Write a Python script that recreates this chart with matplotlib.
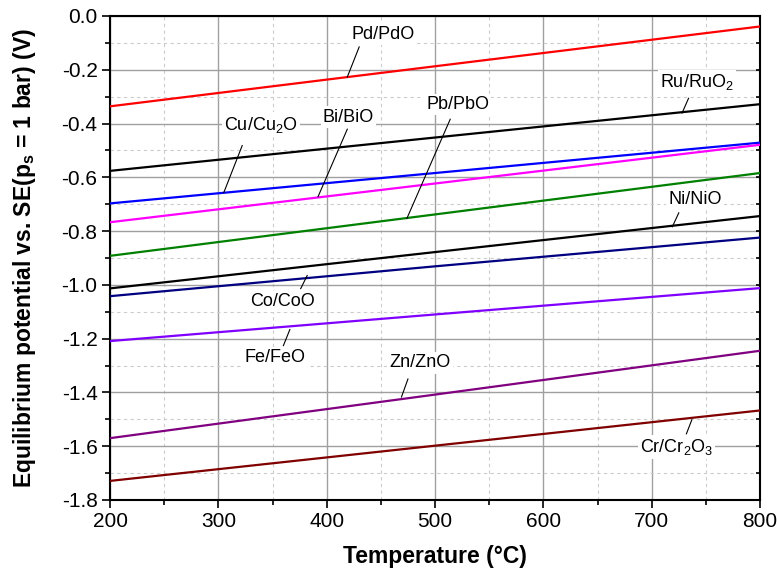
import matplotlib
matplotlib.use("Agg")
import matplotlib.pyplot as plt
from matplotlib.ticker import MultipleLocator, FormatStrFormatter

plt.rcParams['font.family'] = ['Liberation Sans', 'DejaVu Sans']
plt.rcParams['mathtext.fontset'] = 'custom'
plt.rcParams['mathtext.rm'] = 'Liberation Sans'
plt.rcParams['mathtext.it'] = 'Liberation Sans'
plt.rcParams['mathtext.bf'] = 'Liberation Sans:bold'

# temperature (°C)
temp = [200, 500, 800]

# equilibrium potentials (V) read at 200, 500, 800 °C
pd_pdo = [-0.336, -0.187, -0.039]
ru_ruo2 = [-0.576, -0.452, -0.328]
cu_cu2o = [-0.697, -0.584, -0.471]
bi_bio = [-0.767, -0.623, -0.479]
pb_pbo = [-0.892, -0.738, -0.584]
ni_nio = [-1.013, -0.878, -0.744]
co_coo = [-1.042, -0.931, -0.824]
fe_feo = [-1.209, -1.110, -1.012]
zn_zno = [-1.570, -1.408, -1.245]
cr_cr2o3 = [-1.729, -1.598, -1.467]

series = [
    (pd_pdo, '#ff0000'),
    (ru_ruo2, '#000000'),
    (cu_cu2o, '#0000ff'),
    (bi_bio, '#ff00ff'),
    (pb_pbo, '#008000'),
    (ni_nio, '#000000'),
    (co_coo, '#000080'),
    (fe_feo, '#8000ff'),
    (zn_zno, '#800080'),
    (cr_cr2o3, '#800000'),
]

# label text, label position, leader line start, leader line end
labels = [
    ('Pd/PdO', (452, -0.067), (430, -0.115), (419, -0.227)),
    ('Ru/RuO$_2$', (742, -0.245), (734, -0.306), (728, -0.361)),
    ('Cu/Cu$_2$O', (339, -0.404), (322, -0.482), (305, -0.657)),
    ('Bi/BiO', (420, -0.376), (419, -0.421), (392, -0.672)),
    ('Pb/PbO', (521, -0.328), (514, -0.384), (474, -0.753)),
    ('Ni/NiO', (740, -0.681), (725, -0.732), (719, -0.784)),
    ('Co/CoO', (359, -1.061), (382, -0.965), (376, -1.014)),
    ('Fe/FeO', (352, -1.270), (366, -1.166), (360, -1.226)),
    ('Zn/ZnO', (486, -1.290), (475, -1.350), (469, -1.417)),
    ('Cr/Cr$_2$O$_3$', (723, -1.603), (737, -1.502), (732, -1.554)),
]

fig = plt.figure(figsize=(7.77, 5.73), dpi=100)
ax = fig.add_axes([0.1416, 0.1274, 0.8366, 0.8447])

for vals, c in series:
    ax.plot(temp, vals, color=c, lw=1.6, zorder=3)

for text, pos, p1, p2 in labels:
    ax.plot([p1[0], p2[0]], [p1[1], p2[1]], color='black', lw=0.8, zorder=4)
    ax.text(pos[0], pos[1], text, fontsize=13, ha='center', va='center', zorder=5,
            bbox=dict(facecolor='white', edgecolor='none', pad=1.5))

ax.set_xlim(200, 800)
ax.set_ylim(-1.8, 0.0)
ax.xaxis.set_major_locator(MultipleLocator(100))
ax.xaxis.set_minor_locator(MultipleLocator(50))
ax.yaxis.set_major_locator(MultipleLocator(0.2))
ax.yaxis.set_minor_locator(MultipleLocator(0.1))
ax.yaxis.set_major_formatter(FormatStrFormatter('%.1f'))

ax.grid(True, which='major', color='#a0a0a0', lw=1.0, zorder=0)
ax.grid(True, which='minor', color='#cccccc', lw=0.8, ls=(0, (3, 3)), zorder=0)

ax.tick_params(which='both', direction='out', labelsize=15, width=1.2)
ax.tick_params(which='major', length=6, pad=3)
ax.tick_params(which='minor', length=3.5)
ax.tick_params(axis='y', which='both', right=True)
ax.yaxis.set_tick_params(which='both', direction='out')
# right side ticks point inward
for t in ax.yaxis.get_major_ticks() + ax.yaxis.get_minor_ticks():
    t.tick2line.set_marker(0)
    t.tick2line.set_markersize(3)
for s in ax.spines.values():
    s.set_linewidth(1.5)

ax.set_xlabel('Temperature (\u00b0C)', fontsize=16.5, fontweight='bold', labelpad=10)
ax.set_ylabel(r'Equilibrium potential vs. SE(p$_\mathbf{s}$ = 1 bar) (V)',
              fontsize=16.5, fontweight='bold', labelpad=17)

fig.savefig('out.png', dpi=100)
